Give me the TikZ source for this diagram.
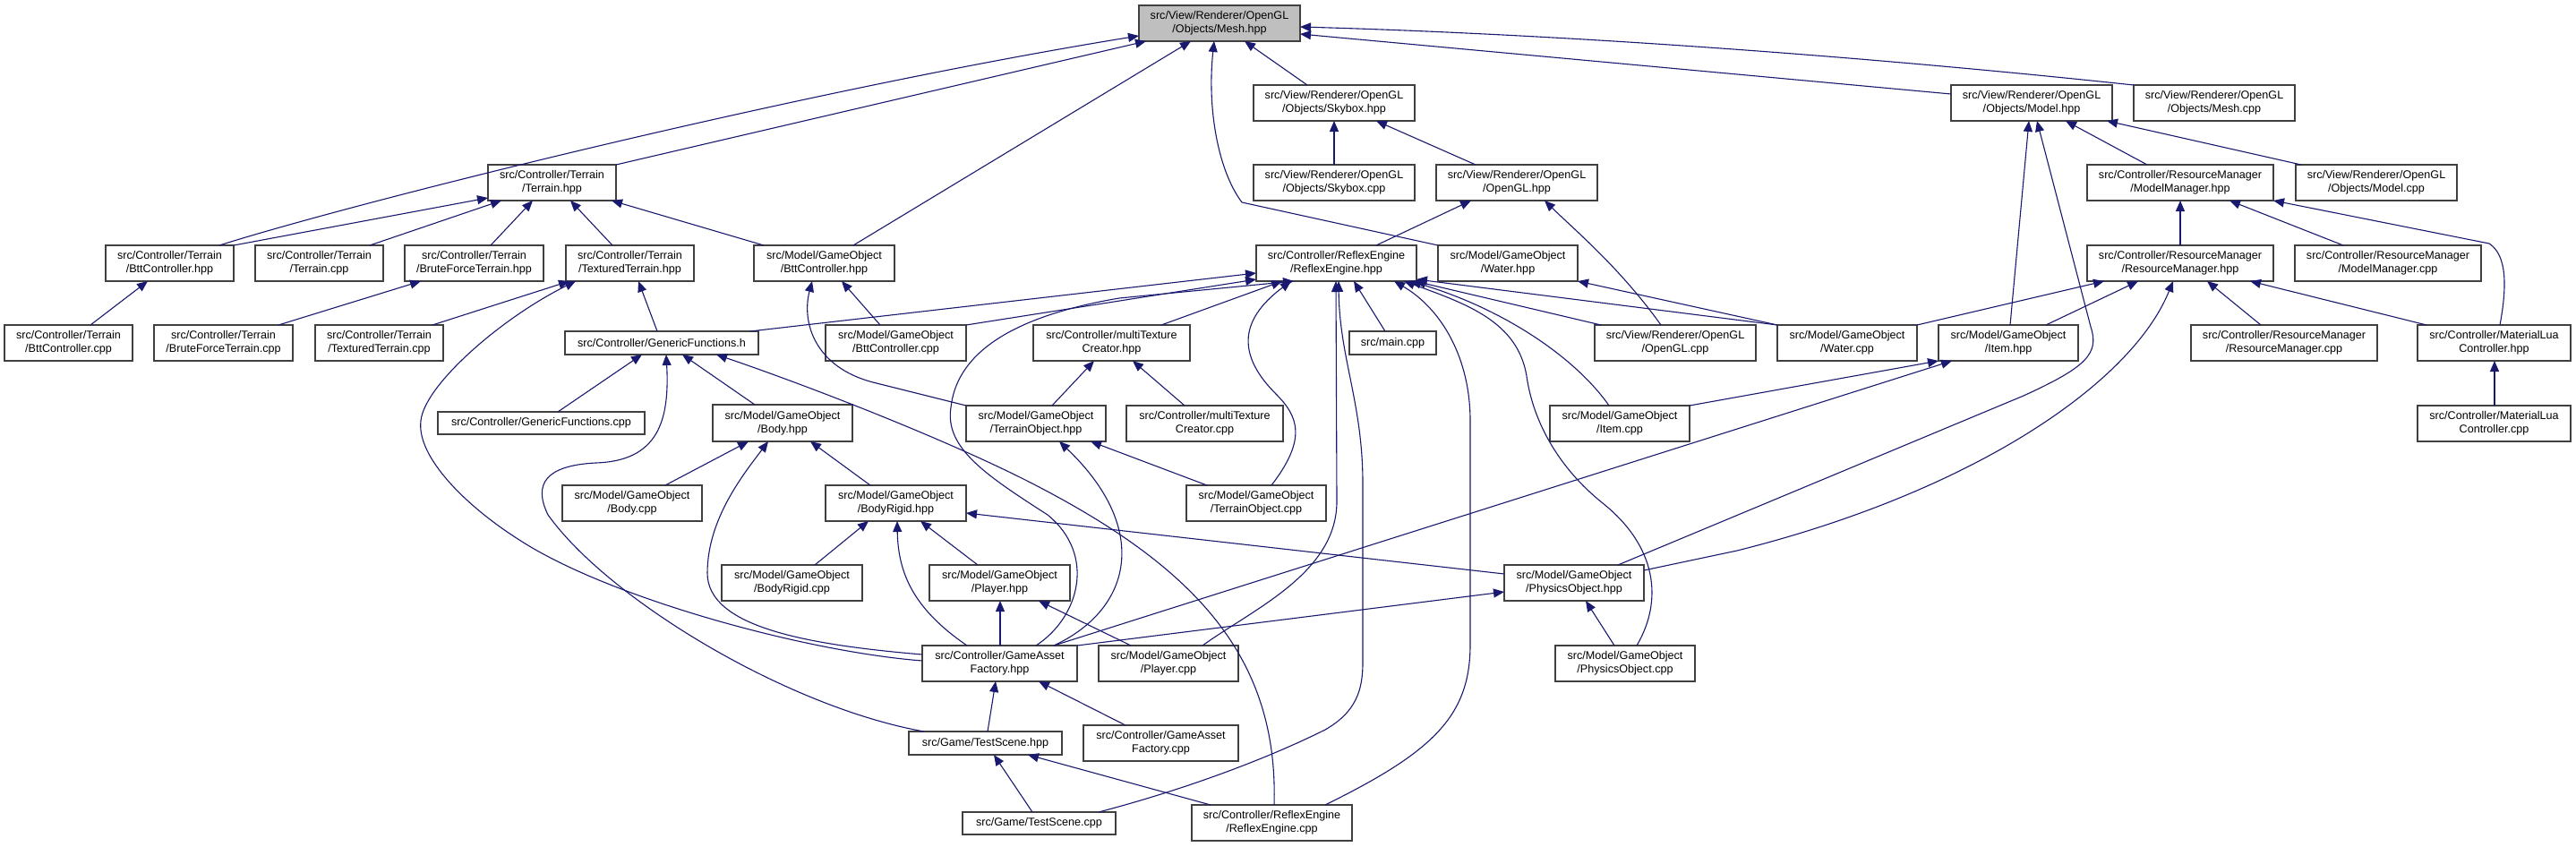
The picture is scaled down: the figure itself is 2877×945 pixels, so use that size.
\documentclass[tikz,border=0pt]{standalone}
\usepackage{fontspec}
\setmainfont{Liberation Sans}
\usetikzlibrary{arrows.meta}
\definecolor{navy}{RGB}{25,25,112}
\definecolor{boxgray}{RGB}{64,64,64}
\definecolor{meshgray}{RGB}{191,191,191}
\newcommand\dnode[7][]{%
 \pgfmathsetmacro\dnw{#5-#3}%
 \pgfmathsetmacro\dnh{#6-#4}%
 \pgfmathsetmacro\dnx{(#3+#5)/2}%
 \pgfmathsetmacro\dny{(#4+#6)/2}%
 \node[box,minimum width=\dnw pt,minimum height=\dnh pt,#1] (#2) at (\dnx,\dny) {#7};}
\begin{document}
\begin{tikzpicture}[x=1pt,y=-1pt,
  box/.style={draw=boxgray,line width=1.4pt,rectangle,inner sep=0pt,outer sep=0pt,align=center,fill=white,font=\fontsize{12.6}{15}\selectfont},
  e/.style={draw=navy,line width=1.1pt,-{Triangle[length=12pt,width=10pt]}}]
\useasboundingbox (0,0) rectangle (2877,945);
\fill[white] (0,0) rectangle (2877,945);
% nodes
\dnode[fill=meshgray]{meshH}{1272}{6}{1452}{46}{src/View/Renderer/OpenGL\\/Objects/Mesh.hpp}
\dnode{terrainH}{545}{184}{688}{224}{src/Controller/Terrain\\/Terrain.hpp}
\dnode{skyH}{1400}{95}{1580}{135}{src/View/Renderer/OpenGL\\/Objects/Skybox.hpp}
\dnode{modelH}{2179}{95}{2359}{135}{src/View/Renderer/OpenGL\\/Objects/Model.hpp}
\dnode{meshC}{2383}{95}{2563}{135}{src/View/Renderer/OpenGL\\/Objects/Mesh.cpp}
\dnode{skyC}{1400}{184}{1580}{224}{src/View/Renderer/OpenGL\\/Objects/Skybox.cpp}
\dnode{openglH}{1604}{184}{1784}{224}{src/View/Renderer/OpenGL\\/OpenGL.hpp}
\dnode{mmH}{2331}{184}{2539}{224}{src/Controller/ResourceManager\\/ModelManager.hpp}
\dnode{modelC}{2564}{184}{2744}{224}{src/View/Renderer/OpenGL\\/Objects/Model.cpp}
\dnode{bttH}{118}{274}{261}{314}{src/Controller/Terrain\\/BttController.hpp}
\dnode{terrainC}{285}{274}{428}{314}{src/Controller/Terrain\\/Terrain.cpp}
\dnode{bruteH}{452}{274}{607}{314}{src/Controller/Terrain\\/BruteForceTerrain.hpp}
\dnode{textH}{632}{274}{775}{314}{src/Controller/Terrain\\/TexturedTerrain.hpp}
\dnode{gobttH}{842}{274}{999}{314}{src/Model/GameObject\\/BttController.hpp}
\dnode{reflexH}{1403}{274}{1582}{314}{src/Controller/ReflexEngine\\/ReflexEngine.hpp}
\dnode{waterH}{1606}{274}{1762}{314}{src/Model/GameObject\\/Water.hpp}
\dnode{rmH}{2331}{274}{2539}{314}{src/Controller/ResourceManager\\/ResourceManager.hpp}
\dnode{mmC}{2563}{274}{2771}{314}{src/Controller/ResourceManager\\/ModelManager.cpp}
\dnode{bttC}{5}{363}{148}{403}{src/Controller/Terrain\\/BttController.cpp}
\dnode{bruteC}{172}{363}{327}{403}{src/Controller/Terrain\\/BruteForceTerrain.cpp}
\dnode{textC}{352}{363}{495}{403}{src/Controller/Terrain\\/TexturedTerrain.cpp}
\dnode{genH}{631}{370}{847}{396}{src/Controller/GenericFunctions.h}
\dnode{gobttC}{922}{363}{1079}{403}{src/Model/GameObject\\/BttController.cpp}
\dnode{mtcH}{1154}{363}{1329}{403}{src/Controller/multiTexture\\Creator.hpp}
\dnode{mainC}{1507}{370}{1604}{396}{src/main.cpp}
\dnode{openglC}{1781}{363}{1961}{403}{src/View/Renderer/OpenGL\\/OpenGL.cpp}
\dnode{waterC}{1985}{363}{2141}{403}{src/Model/GameObject\\/Water.cpp}
\dnode{itemH}{2165}{363}{2321}{403}{src/Model/GameObject\\/Item.hpp}
\dnode{rmC}{2447}{363}{2655}{403}{src/Controller/ResourceManager\\/ResourceManager.cpp}
\dnode{mlcH}{2700}{363}{2871}{403}{src/Controller/MaterialLua\\Controller.hpp}
\dnode{genC}{489}{460}{720}{485}{src/Controller/GenericFunctions.cpp}
\dnode{bodyH}{796}{452}{952}{493}{src/Model/GameObject\\/Body.hpp}
\dnode{toH}{1079}{453}{1235}{493}{src/Model/GameObject\\/TerrainObject.hpp}
\dnode{mtcC}{1258}{453}{1433}{493}{src/Controller/multiTexture\\Creator.cpp}
\dnode{itemC}{1731}{453}{1887}{493}{src/Model/GameObject\\/Item.cpp}
\dnode{mlcC}{2700}{453}{2871}{493}{src/Controller/MaterialLua\\Controller.cpp}
\dnode{bodyC}{628}{542}{784}{582}{src/Model/GameObject\\/Body.cpp}
\dnode{brH}{922}{542}{1079}{582}{src/Model/GameObject\\/BodyRigid.hpp}
\dnode{toC}{1325}{542}{1481}{582}{src/Model/GameObject\\/TerrainObject.cpp}
\dnode{brC}{806}{631}{963}{671}{src/Model/GameObject\\/BodyRigid.cpp}
\dnode{playerH}{1038}{631}{1195}{671}{src/Model/GameObject\\/Player.hpp}
\dnode{poH}{1680}{631}{1836}{671}{src/Model/GameObject\\/PhysicsObject.hpp}
\dnode{gafH}{1030}{721}{1203}{761}{src/Controller/GameAsset\\Factory.hpp}
\dnode{playerC}{1227}{721}{1383}{761}{src/Model/GameObject\\/Player.cpp}
\dnode{poC}{1737}{721}{1893}{761}{src/Model/GameObject\\/PhysicsObject.cpp}
\dnode{tsH}{1015}{817}{1186}{843}{src/Game/TestScene.hpp}
\dnode{gafC}{1210}{810}{1383}{850}{src/Controller/GameAsset\\Factory.cpp}
\dnode{tsC}{1075}{907}{1246}{932}{src/Game/TestScene.cpp}
\dnode{reflexC}{1331}{899}{1510}{939}{src/Controller/ReflexEngine\\/ReflexEngine.cpp}
% edges into Mesh.hpp
\draw[e] (bttH.north -| 245,0) .. controls (400,225) and (900,100) .. (meshH.west |- 0,40);
\draw[e] (terrainH.north east) -- (meshH.south -| 1280,0);
\draw[e] (gobttH.north -| 953,0) -- (meshH.south -| 1330,0);
\draw[e] (waterH.north west) -- (1387,226) .. controls (1360,190) and (1348,120) .. (meshH.south -| 1356,0);
\draw[e] (skyH.north -| 1460,0) -- (meshH.south -| 1390,0);
\draw[e] (meshC.north west) .. controls (2150,70) and (1800,40) .. (meshH.east |- 0,30);
\draw[e] (modelH.west |- 0,105) -- (meshH.east |- 0,38);
% Terrain.hpp
\draw[e] (bttH.north east) -- (terrainH.west |- 0,221);
\draw[e] (terrainC.north -| 413,0) -- (terrainH.south -| 560,0);
\draw[e] (bruteH.north -| 548,0) -- (terrainH.south -| 595,0);
\draw[e] (textH.north -| 684,0) -- (terrainH.south -| 637,0);
\draw[e] (gobttH.north -| 853,0) -- (terrainH.south -| 683,0);
\draw[e] (bttC.north -| 101,0) -- (bttH.south -| 165,0);
\draw[e] (bruteC.north -| 311,0) -- (bruteH.south -| 470,0);
\draw[e] (textC.north -| 483,0) -- (textH.south -| 636,0);
\draw[e] (gafH.west |- 0,738) .. controls (900,728) and (680,668) .. (580,603) .. controls (520,565) and (465,510) .. (470,470) .. controls (474,430) and (560,355) .. (textH.south -| 643,0);
\draw[e] (genH.north -| 734,0) -- (textH.south -| 713,0);
% GameObject BttController
\draw[e] (gobttC.north -| 983,0) -- (gobttH.south -| 940,0);
\draw[e] (toH.north west) -- (975,427) .. controls (910,410) and (895,360) .. (gobttH.south -| 907,0);
% GenericFunctions.h
\draw[e] (genC.north -| 623,0) -- (genH.south -| 717,0);
\draw[e] (tsH.north -| 1032,0) .. controls (880,790) and (680,670) .. (612,575) .. controls (595,540) and (610,520) .. (665,517) .. controls (735,515) and (748,470) .. (genH.south -| 744,0);
\draw[e] (bodyH.north -| 843,0) -- (genH.south -| 762,0);
\draw[e] (reflexC.north -| 1423,0) .. controls (1428,730) and (1330,630) .. (1147,537) .. controls (1050,488) and (900,430) .. (genH.south -| 800,0);
% ReflexEngine.hpp
\draw[e] (gobttC.north east) -- (reflexH.west |- 0,312);
\draw[e] (genH.north -| 838,0) -- (reflexH.west |- 0,305);
\draw[e] (mtcH.north -| 1297,0) -- (reflexH.south -| 1432,0);
\draw[e] (gafH.north -| 1157,0) .. controls (1205,690) and (1225,620) .. (1170,575) .. controls (1100,530) and (1055,500) .. (1062,455) .. controls (1068,400) and (1120,355) .. (1250,333) -- (reflexH.south -| 1445,0);
\draw[e] (toC.north -| 1420,0) .. controls (1460,490) and (1450,465) .. (1425,440) .. controls (1385,400) and (1380,360) .. (reflexH.south -| 1442,0);
\draw[e] (playerC.north -| 1343,0) .. controls (1400,680) and (1493,640) .. (1493,560) -- (reflexH.south -| 1492,0);
\draw[e] (tsC.north -| 1227,0) .. controls (1330,880) and (1420,845) .. (1480,815) .. controls (1515,795) and (1522,770) .. (1522,740) -- (1522,540) .. controls (1522,450) and (1496,400) .. (reflexH.south -| 1495,0);
\draw[e] (mainC.north -| 1547,0) -- (reflexH.south -| 1512,0);
\draw[e] (reflexC.north -| 1480,0) .. controls (1600,840) and (1642,800) .. (1642,720) -- (1642,470) .. controls (1642,400) and (1610,345) .. (reflexH.south -| 1557,0);
\draw[e] (poC.north -| 1828,0) .. controls (1858,670) and (1850,610) .. (1790,562) .. controls (1740,522) and (1712,470) .. (1705,420) .. controls (1695,360) and (1640,340) .. (reflexH.south -| 1568,0);
\draw[e] (itemC.north -| 1797,0) .. controls (1760,400) and (1680,345) .. (reflexH.south -| 1575,0);
\draw[e] (openglC.north -| 1788,0) -- (reflexH.south -| 1580,0);
\draw[e] (waterC.north west) -- (reflexH.east |- 0,312);
% OpenGL / Skybox / Water
\draw[e] (waterC.north west) -- (waterH.south east);
\draw[e] (reflexH.north -| 1537,0) -- (openglH.south -| 1643,0);
\draw[e] (openglC.north -| 1855,0) .. controls (1810,300) and (1760,258) .. (openglH.south -| 1725,0);
\draw[e] (openglH.north -| 1648,0) -- (skyH.south -| 1537,0);
\draw[e] (skyC.north -| 1490,0) -- (skyH.south -| 1490,0);
% Model / managers
\draw[e] (mmH.north -| 2398,0) -- (modelH.south -| 2307,0);
\draw[e] (modelC.north -| 2570,0) -- (modelH.south -| 2353,0);
\draw[e] (itemH.north -| 2245,0) -- (modelH.south -| 2266,0);
\draw[e] (poH.north -| 1807,0) -- (2260,442) .. controls (2330,410) and (2345,395) .. (2335,365) -- (modelH.south -| 2275,0);
\draw[e] (rmH.north -| 2435,0) -- (mmH.south -| 2435,0);
\draw[e] (mmC.north -| 2617,0) -- (mmH.south -| 2490,0);
\draw[e] (mlcH.north -| 2792,0) .. controls (2800,320) and (2800,285) .. (2780,272) -- (mmH.south east);
\draw[e] (rmC.north -| 2525,0) -- (rmH.south -| 2465,0);
\draw[e] (mlcH.north -| 2710,0) -- (rmH.south -| 2513,0);
\draw[e] (poH.east |- 0,637) -- (1940,615) .. controls (2200,550) and (2380,430) .. (rmH.south -| 2427,0);
\draw[e] (waterC.north east) -- (rmH.south -| 2350,0);
\draw[e] (itemH.north -| 2285,0) -- (rmH.south -| 2388,0);
\draw[e] (mlcC.north -| 2786,0) -- (mlcH.south -| 2786,0);
\draw[e] (itemC.north east) -- (itemH.south west);
\draw[e] (gafH.north -| 1177,0) -- (itemH.south -| 2180,0);
% Physics / Body
\draw[e] (gafH.north east) -- (poH.west |- 0,661);
\draw[e] (poH.west |- 0,641) -- (brH.east |- 0,573);
\draw[e] (poC.north -| 1803,0) -- (poH.south -| 1771,0);
\draw[e] (brH.north -| 972,0) -- (bodyH.south -| 905,0);
\draw[e] (bodyC.north -| 743,0) -- (bodyH.south -| 836,0);
\draw[e] (gafH.west |- 0,731) .. controls (900,720) and (790,700) .. (790,640) .. controls (790,580) and (830,530) .. (bodyH.south -| 858,0);
\draw[e] (brC.north -| 910,0) -- (brH.south -| 970,0);
\draw[e] (playerH.north -| 1092,0) -- (brH.south -| 1028,0);
\draw[e] (gafH.north -| 1080,0) .. controls (1020,680) and (1003,640) .. (brH.south -| 1002,0);
\draw[e] (playerC.north -| 1263,0) -- (playerH.south -| 1160,0);
\draw[e] (gafH.north -| 1117,0) -- (playerH.south -| 1117,0);
% TerrainObject / multiTexture
\draw[e] (gafH.north -| 1177,0) .. controls (1265,680) and (1285,590) .. (toH.south -| 1183,0);
\draw[e] (toC.north -| 1348,0) -- (toH.south -| 1218,0);
\draw[e] (toH.north -| 1175,0) -- (mtcH.south -| 1222,0);
\draw[e] (mtcC.north -| 1323,0) -- (mtcH.south -| 1265,0);
% bottom
\draw[e] (tsH.north -| 1103,0) -- (gafH.south -| 1112,0);
\draw[e] (gafC.north -| 1257,0) -- (gafH.south -| 1160,0);
\draw[e] (tsC.north -| 1153,0) -- (tsH.south -| 1110,0);
\draw[e] (reflexC.north -| 1352,0) -- (tsH.south -| 1148,0);
\end{tikzpicture}
\end{document}
